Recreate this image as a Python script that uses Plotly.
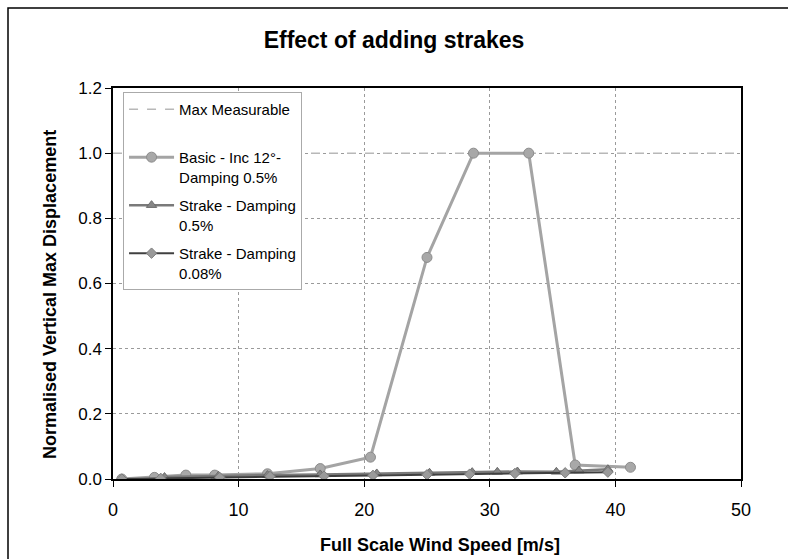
import plotly.graph_objects as go

# ---- data ----
max_x = [0, 50]
max_y = [1.0, 1.0]

basic_x = [0.7, 3.3, 5.8, 8.1, 12.3, 16.5, 20.5, 25.0, 28.7, 33.1, 36.8, 41.2]
basic_y = [0.0, 0.005, 0.012, 0.012, 0.016, 0.032, 0.067, 0.68, 1.0, 1.0, 0.043, 0.036]

strake05_x = [4.1, 8.4, 12.3, 16.5, 21.0, 25.2, 28.6, 30.6, 32.2, 35.3, 37.1, 39.4]
strake05_y = [0.006, 0.01, 0.012, 0.014, 0.017, 0.019, 0.021, 0.022, 0.023, 0.022, 0.026, 0.03]

strake008_x = [0.7, 3.8, 8.5, 12.5, 16.8, 20.7, 25.0, 28.4, 32.0, 36.0, 39.4]
strake008_y = [0.0, 0.002, 0.005, 0.008, 0.009, 0.011, 0.013, 0.015, 0.017, 0.019, 0.021]

names = ["Max Measurable",
         "Basic - Inc 12°-<br>Damping 0.5%",
         "Strake - Damping<br>0.5%",
         "Strake - Damping<br>0.08%"]

FONT = "Liberation Sans, Arial, sans-serif"

fig = go.Figure()
fig.add_trace(go.Scatter(x=max_x, y=max_y, mode="lines", name=names[0] + "<br> ",
                         legendgroup="g0",
                         line=dict(color="#b8b8b8", width=1.5, dash="dash")))
fig.add_trace(go.Scatter(x=basic_x, y=basic_y, mode="lines+markers", name=names[1],
                         legendgroup="g1",
                         line=dict(color="#a4a4a4", width=3),
                         marker=dict(symbol="circle", size=10, color="#a8a8a8",
                                     line=dict(color="#8c8c8c", width=1))))
fig.add_trace(go.Scatter(x=strake05_x, y=strake05_y, mode="lines+markers", name=names[2],
                         legendgroup="g2",
                         line=dict(color="#7a7a7a", width=2.5),
                         marker=dict(symbol="triangle-up", size=9, color="#868686",
                                     line=dict(color="#6c6c6c", width=1))))
fig.add_trace(go.Scatter(x=strake008_x, y=strake008_y, mode="lines+markers", name=names[3],
                         legendgroup="g3",
                         line=dict(color="#404040", width=2),
                         marker=dict(symbol="diamond", size=8, color="#9a9a9a",
                                     line=dict(color="#7c7c7c", width=1))))

axis_common = dict(showgrid=True, gridcolor="#9a9a9a", griddash="dot", gridwidth=1,
                   showline=True, linecolor="black", linewidth=1.5, mirror=True,
                   ticks="outside", ticklen=6, tickcolor="black", tickwidth=1,
                   zeroline=False)

fig.update_xaxes(range=[0, 50], dtick=10, tick0=0, ticklabelstandoff=8,
                 tickfont=dict(family=FONT, size=18, color="black"), **axis_common)
fig.update_yaxes(range=[0, 1.2], dtick=0.2, tick0=0, tickformat=".1f",
                 tickfont=dict(family=FONT, size=17, color="black"), **axis_common)

fig.update_layout(
    width=788, height=559,
    margin=dict(l=113, r=47, t=88, b=80),
    paper_bgcolor="white", plot_bgcolor="white",
    font=dict(family=FONT, color="black"),
    title=dict(text="<b>Effect of adding strakes</b>", x=0.5, xref="container",
               y=1 - 40 / 559, yanchor="middle", xanchor="center",
               font=dict(family=FONT, size=23, color="black")),
    showlegend=True,
    legend=dict(x=0.016, y=0.99, xanchor="left", yanchor="top",
                bgcolor="white", bordercolor="#aaaaaa", borderwidth=1,
                font=dict(family=FONT, size=15, color="black"),
                valign="top", itemwidth=45, traceorder="grouped", tracegroupgap=6),
    annotations=[
        dict(text="<b>Normalised Vertical Max Displacement</b>", xref="paper", yref="paper",
             x=(50 - 113) / 628, y=(479 - 295) / 391, textangle=-90, showarrow=False,
             xanchor="center", yanchor="middle",
             font=dict(family=FONT, size=18, color="black")),
        dict(text="<b>Full Scale Wind Speed [m/s]</b>", xref="paper", yref="paper",
             x=(440 - 113) / 628, y=(479 - 545) / 391, showarrow=False,
             xanchor="center", yanchor="middle",
             font=dict(family=FONT, size=18, color="black")),
    ],
    shapes=[
        dict(type="rect", xref="paper", yref="paper",
             x0=(8 - 113) / 628, x1=(800 - 113) / 628,
             y0=(479 - 570) / 391, y1=(479 - 8) / 391,
             line=dict(color="black", width=1.5), fillcolor="rgba(0,0,0,0)", layer="below"),
    ],
)

fig.write_html("out.html")
